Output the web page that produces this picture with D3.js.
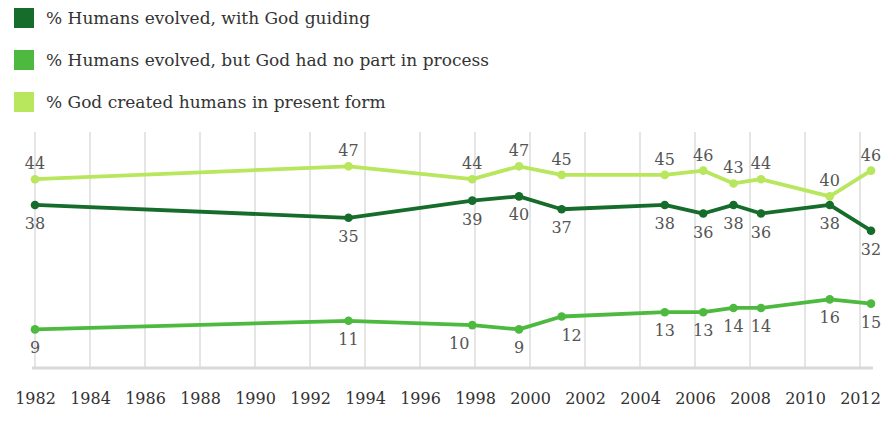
<!DOCTYPE html>
<html><head><meta charset="utf-8">
<script src="https://cdn.jsdelivr.net/npm/d3@7"></script>
<style>
body{margin:0;background:#fff;}
text{font-family:"DejaVu Serif",serif;}
</style></head>
<body><svg id="c" width="896" height="424"></svg>
<script>
// survey dates (decimal years)
const dates = [1982.0, 1993.4, 1997.9, 1999.6, 2001.15, 2004.9, 2006.3, 2007.4, 2008.4, 2010.9, 2012.4];
const godGuiding = [38, 35, 39, 40, 37, 38, 36, 38, 36, 38, 32];
const noGod = [9, 11, 10, 9, 12, 13, 13, 14, 14, 16, 15];
const creationism = [44, 47, 44, 47, 45, 45, 46, 43, 44, 40, 46];
const seriesNames = ["% Humans evolved, with God guiding", "% Humans evolved, but God had no part in process", "% God created humans in present form"];
const tickYears = [1982,1984,1986,1988,1990,1992,1994,1996,1998,2000,2002,2004,2006,2008,2010,2012];

const colors = ["#166c2b", "#4dba3f", "#b8e65c"];
const labelPos = ["below", "below", "above"];
// small horizontal nudges for crowded labels: [seriesIndex, pointIndex, dx]
const nudges = [[1,2,-13],[1,4,10]];

const svg = d3.select("#c");
const x = d3.scaleLinear().domain([1982, 2012]).range([35, 860]);
const y = d3.scaleLinear().domain([0, 55]).range([368, 132]);

// vertical grid
svg.append("g").selectAll("line").data(tickYears).join("line")
  .attr("x1", d => x(d)).attr("x2", d => x(d))
  .attr("y1", y(55)).attr("y2", y(0))
  .attr("stroke", "#d4d4d4").attr("stroke-width", 1.2);

// baseline
svg.append("line").attr("x1", 32).attr("x2", 873).attr("y1", y(0)).attr("y2", y(0))
  .attr("stroke", "#d9d9d9").attr("stroke-width", 3);

// x axis labels
const ax = svg.append("g").attr("transform", "translate(0,404)")
  .call(d3.axisBottom(x).tickValues(tickYears).tickFormat(d3.format("d")).tickSize(0).tickPadding(0));
ax.select(".domain").remove();
ax.selectAll("text").attr("font-family", "DejaVu Serif").attr("font-size", 16).attr("fill", "#333").attr("dy", 0);

const all = [godGuiding, noGod, creationism];
const line = d3.line().x((d, i) => x(dates[i])).y(d => y(d));

// draw order: light, mid, dark on top
[2, 1, 0].forEach(s => {
  const g = svg.append("g");
  g.append("path").datum(all[s]).attr("d", line)
    .attr("fill", "none").attr("stroke", colors[s]).attr("stroke-width", 3.8).attr("stroke-linejoin", "round");
  g.selectAll("circle").data(all[s]).join("circle")
    .attr("cx", (d, i) => x(dates[i])).attr("cy", d => y(d)).attr("r", 4.3).attr("fill", colors[s]);
});

[0, 1, 2].forEach(s => {
  svg.append("g").selectAll("text").data(all[s]).join("text")
    .attr("x", (d, i) => {
      const n = nudges.find(v => v[0] === s && v[1] === i);
      return x(dates[i]) + (n ? n[2] : 0);
    })
    .attr("y", d => labelPos[s] === "above" ? y(d) - 10 : y(d) + 24)
    .attr("text-anchor", "middle").attr("font-size", 16).attr("fill", "#555")
    .text(d => d);
});

// legend
const lg = svg.append("g");
seriesNames.forEach((n, i) => {
  lg.append("rect").attr("x", 14).attr("y", 8 + i * 42).attr("width", 20).attr("height", 20).attr("fill", colors[i]);
  lg.append("text").attr("x", 46).attr("y", 24 + i * 42).attr("font-size", 17).attr("fill", "#333").text(n);
});
</script></body></html>
